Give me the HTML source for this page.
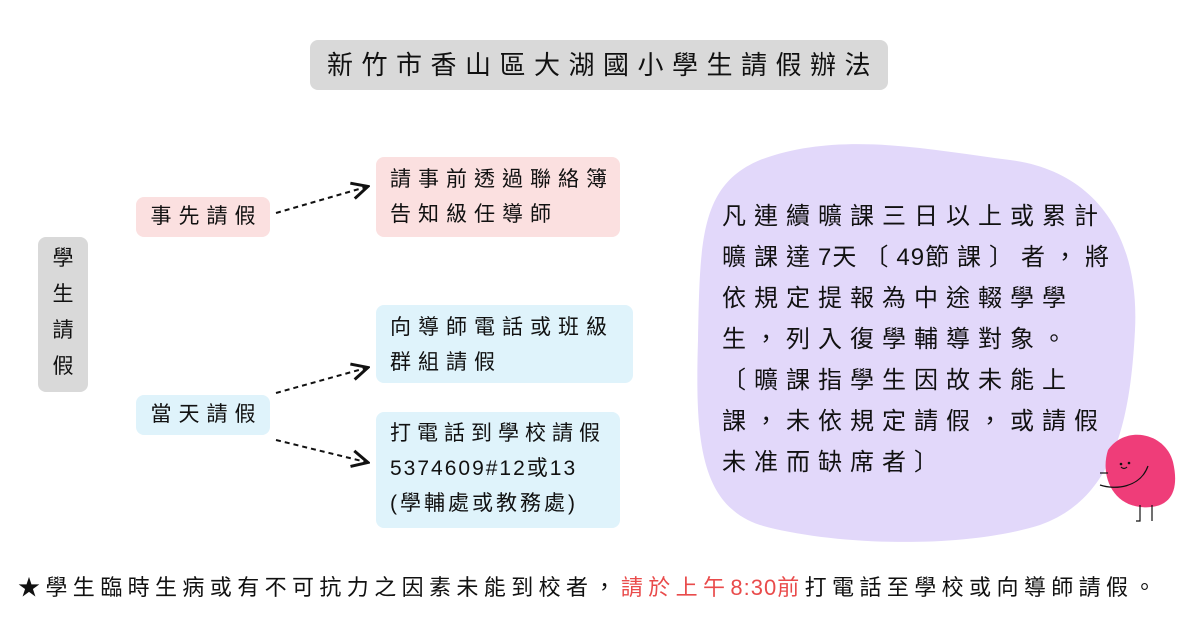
<!DOCTYPE html>
<html><head><meta charset="utf-8"><style>
body{margin:0;width:1200px;height:630px;background:#fff;position:relative;overflow:hidden;font-family:"Liberation Sans","Noto Sans CJK TC",sans-serif;color:#111}
.a{position:absolute}
.box{position:absolute;border-radius:8px;font-size:21px;letter-spacing:7px;line-height:35px}
.n{letter-spacing:1px}
</style></head><body>
<div class="box" style="left:310px;top:40px;width:578px;height:50px;background:#d9d9d9;text-align:center;line-height:50px;font-size:26px;letter-spacing:8.5px;text-indent:8px">新竹市香山區大湖國小學生請假辦法</div>
<div class="box" style="left:38px;top:237px;width:50px;height:155px;background:#d9d9d9;text-align:center;font-size:21px;line-height:36px;padding-top:4px;box-sizing:border-box;letter-spacing:0">學<br>生<br>請<br>假</div>
<div class="box" style="left:136px;top:197px;width:134px;height:40px;background:#fbe0e0;text-align:center;line-height:40px;letter-spacing:7px;text-indent:7px">事先請假</div>
<div class="box" style="left:136px;top:395px;width:134px;height:40px;background:#dff3fb;text-align:center;line-height:40px;letter-spacing:7px;text-indent:7px">當天請假</div>
<div class="box" style="left:376px;top:157px;width:244px;height:80px;background:#fbe0e0;padding:5px 0 0 14px;box-sizing:border-box">請事前透過聯絡簿<br>告知級任導師</div>
<div class="box" style="left:376px;top:305px;width:257px;height:78px;background:#dff3fb;padding:5px 0 0 14px;box-sizing:border-box">向導師電話或班級<br>群組請假</div>
<div class="box" style="left:376px;top:412px;width:244px;height:116px;background:#dff3fb;padding:4px 0 0 14px;box-sizing:border-box;letter-spacing:6px">打電話到學校請假<br><span class="n" style="letter-spacing:2px">5374609#12或13</span><br><span style="letter-spacing:3px">(學輔處或教務處)</span></div>
<svg class="a" style="left:0;top:0" width="1200" height="630">
<defs><marker id="m" markerWidth="10" markerHeight="10" refX="8" refY="5" orient="auto"><path d="M1,1 L9,5 L1,9" fill="none" stroke="#111" stroke-width="1.5"/></marker></defs>
<g stroke="#111" stroke-width="2" stroke-dasharray="5,4" fill="none" marker-end="url(#m)">
<line x1="276" y1="213" x2="366" y2="187"/>
<line x1="276" y1="393" x2="366" y2="368"/>
<line x1="276" y1="440" x2="366" y2="462"/>
</g>
<path d="M760,160 C840,130 930,150 1010,160 C1090,170 1140,230 1135,330 C1130,430 1110,500 1040,525 C960,550 830,545 760,525 C700,505 695,440 698,340 C700,240 700,185 760,160 Z" fill="#e2d8fa"/>
<path d="M1108,450 C1125,425 1165,432 1173,462 C1180,492 1170,510 1140,507 C1112,504 1100,475 1108,450 Z" fill="#ef3d79"/>
<g stroke="#111" stroke-width="1.2" fill="none"><path d="M1100,485 C1115,490 1140,488 1148,466"/><path d="M1100,473 L1108,473"/><path d="M1140,505 L1140,521 L1136,521"/><path d="M1152,505 L1152,521"/><path d="M1121,467 Q1124,470 1127,467"/></g>
<circle cx="1121" cy="464" r="1.3" fill="#111"/><circle cx="1129" cy="463" r="1.3" fill="#111"/>
</svg>
<div class="a" style="left:722px;top:196px;font-size:24px;line-height:41px;letter-spacing:8px;white-space:nowrap">凡連續曠課三日以上或累計<br>曠課達<span style="letter-spacing:1px">7</span>天〔<span style="letter-spacing:1px">49</span>節課〕者，將<br>依規定提報為中途輟學學<br>生，列入復學輔導對象。<br>〔曠課指學生因故未能上<br>課，未依規定請假，或請假<br>未准而缺席者〕</div>
<div class="a" style="left:18px;top:570px;font-size:22px;letter-spacing:5.4px;white-space:nowrap">★學生臨時生病或有不可抗力之因素未能到校者，<span style="color:#e94b4b">請於上午<span style="letter-spacing:1px">8:30</span>前</span>打電話至學校或向導師請假。</div>
</body></html>
